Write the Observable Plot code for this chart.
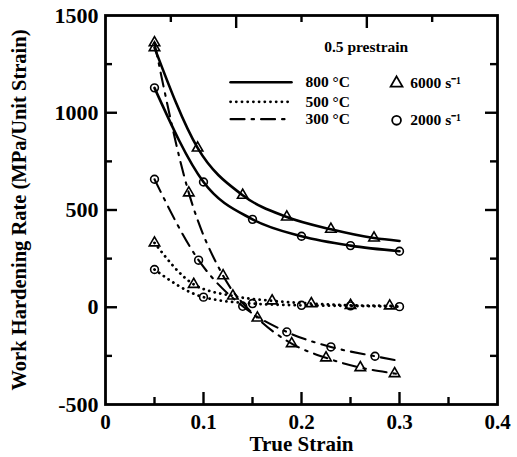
<!DOCTYPE html>
<html><head><meta charset="utf-8">
<script src="https://cdn.jsdelivr.net/npm/d3@7"></script>
<script src="https://cdn.jsdelivr.net/npm/@observablehq/plot@0.6"></script>
<style>body{margin:0;background:#fff}</style>
</head><body><div id="chart"></div>
<script>
// ---- data ----
const x800_6000 = [0.05, 0.094, 0.14, 0.185, 0.23, 0.274];
const y800_6000 = [1335, 819, 576, 464, 401, 356];
const x800_2000 = [0.05, 0.10, 0.15, 0.20, 0.25, 0.30];
const y800_2000 = [1128, 644, 452, 365, 317, 288];
const x500_6000 = [0.05, 0.09, 0.13, 0.17, 0.21, 0.25, 0.29];
const y500_6000 = [331, 118, 58, 33, 19, 10, 7];
const x500_2000 = [0.05, 0.10, 0.15, 0.20, 0.25, 0.30];
const y500_2000 = [194, 52, 19, 10, 7, 3];
const x300_6000 = [0.05, 0.085, 0.12, 0.155, 0.19, 0.225, 0.26, 0.295];
const y300_6000 = [1360, 588, 162, -55, -187, -260, -310, -341];
const x300_2000 = [0.05, 0.095, 0.14, 0.185, 0.23, 0.275];
const y300_2000 = [658, 242, 5, -127, -204, -252];
// end points of the fitted curves beyond the last marker
const end800_6000 = [0.30, 341];
const end500_6000 = [0.30, 6];
const end300_6000 = [0.30, -345];
const end300_2000 = [0.30, -276];

const xTickLabels = [0, 0.1, 0.2, 0.3, 0.4];
const xMinorTicks = [0.05, 0.15, 0.25, 0.35];
const topMajorTicks = [0.4 * 2 / 6, 0.4 * 4 / 6];
const topMinorTicks = [0.4 / 6, 0.4 * 3 / 6, 0.4 * 5 / 6];
const yTickLabels = [-500, 0, 500, 1000, 1500];
const yMinorTicks = [-250, 250, 750, 1250];

const temps = ["800 °C", "500 °C", "300 °C"];
const rates = ["6000", "2000"];

// ---- build tables ----
const zip = (xs, ys) => xs.map((x, i) => ({x, y: ys[i]}));
const series = [
  {temp: "800", rate: "6000", pts: zip(x800_6000, y800_6000), end: end800_6000},
  {temp: "800", rate: "2000", pts: zip(x800_2000, y800_2000), end: null},
  {temp: "500", rate: "6000", pts: zip(x500_6000, y500_6000), end: end500_6000},
  {temp: "500", rate: "2000", pts: zip(x500_2000, y500_2000), end: null},
  {temp: "300", rate: "6000", pts: zip(x300_6000, y300_6000), end: end300_6000},
  {temp: "300", rate: "2000", pts: zip(x300_2000, y300_2000), end: end300_2000}
];
const lineStyle = {
  "800": {strokeWidth: 2.6},
  "500": {strokeWidth: 2.8, strokeDasharray: "0.1,5.6", strokeLinecap: "round"},
  "300": {strokeWidth: 2.1, strokeDasharray: "14,7,2.5,7"}
};
const symbolOf = {"6000": "triangle", "2000": "circle"};

const fam = "'Liberation Serif', 'Times New Roman', serif";
const xt = 0.4 / 392; // data units per pixel (x)
const yt = 2000 / 389; // data units per pixel (y)

const marks = [];
for (const s of series) {
  const line = s.end ? [...s.pts, {x: s.end[0], y: s.end[1]}] : s.pts;
  marks.push(Plot.line(line, {x: "x", y: "y", curve: "monotone-x", stroke: "black", ...lineStyle[s.temp]}));
}
for (const s of series) {
  marks.push(Plot.dot(s.pts, {x: "x", y: "y", symbol: symbolOf[s.rate], r: s.rate === "6000" ? 3.9 : 3.9, stroke: "black", strokeWidth: 1.6, fill: "none"}));
}
// inward tick marks
marks.push(
  Plot.ruleX(xTickLabels.slice(1, -1), {x: d => d, y1: -500, y2: -500 + 12 * yt, stroke: "black", strokeWidth: 2.4}),
  Plot.ruleX(xMinorTicks, {x: d => d, y1: -500, y2: -500 + 7 * yt, stroke: "black", strokeWidth: 2.4}),
  Plot.ruleX(topMajorTicks, {x: d => d, y1: 1500, y2: 1500 - 13 * yt, stroke: "black", strokeWidth: 2.4}),
  Plot.ruleX(topMinorTicks, {x: d => d, y1: 1500, y2: 1500 - 7 * yt, stroke: "black", strokeWidth: 2.4}),
  Plot.ruleY(yTickLabels.slice(1, -1), {y: d => d, x1: 0, x2: 12 * xt, stroke: "black", strokeWidth: 2.4}),
  Plot.ruleY(yMinorTicks, {y: d => d, x1: 0, x2: 7 * xt, stroke: "black", strokeWidth: 2.4}),
  Plot.ruleY(yTickLabels.slice(1, -1), {y: d => d, x1: 0.4, x2: 0.4 - 12 * xt, stroke: "black", strokeWidth: 2.4}),
  Plot.ruleY(yMinorTicks, {y: d => d, x1: 0.4, x2: 0.4 - 7 * xt, stroke: "black", strokeWidth: 2.4}),
  Plot.frame({stroke: "black", strokeWidth: 2.8})
);
// axes (labels only)
marks.push(
  Plot.axisX(xTickLabels, {tickSize: 0, tickPadding: 10, tickFormat: d => String(d), fontSize: 21, fontWeight: "bold", label: null}),
  Plot.axisY(yTickLabels, {tickSize: 0, tickPadding: 7, tickFormat: d => d < 0 ? "-" + Math.abs(d) : String(d), fontSize: 22, fontWeight: "bold", label: null}),
  Plot.text(["True Strain"], {frameAnchor: "bottom", dy: 40, textAnchor: "middle", lineAnchor: "middle", text: d => d, fontSize: 21, fontWeight: "bold"}),
  Plot.text(["Work Hardening Rate (MPa/Unit Strain)"], {frameAnchor: "left", dx: -86, rotate: -90, textAnchor: "middle", lineAnchor: "middle", text: d => d, fontSize: 20.5, fontWeight: "bold"})
);
// legend
const legX1 = 0.1276, legX2 = 0.1898, legTextX = 0.204;
const legY = [1157, 1056, 967];
const legendLines = temps.map((t, i) => ({t, key: ["800", "500", "300"][i], y: legY[i]}));
for (const l of legendLines) {
  marks.push(Plot.line([{x: legX1, y: l.y}, {x: legX2, y: l.y}], {x: "x", y: "y", stroke: "black", ...lineStyle[l.key]}));
}
marks.push(
  Plot.text(legendLines, {x: legTextX, y: "y", text: "t", textAnchor: "start", fontSize: 15.5, fontWeight: "bold"}),
  Plot.text(["0.5 prestrain"], {x: 0.266, y: 1337, text: d => d, fontSize: 15.5, fontWeight: "bold"}),
  Plot.dot(rates, {x: 0.297, y: (d, i) => [1152, 961][i], symbol: d => symbolOf[d], r: 4.4, stroke: "black", strokeWidth: 1.8, fill: "none"}),
  Plot.text(rates, {x: 0.311, y: (d, i) => [1152, 961][i], text: d => d + " s\u207B\u00B9", textAnchor: "start", fontSize: 15.5, fontWeight: "bold"})
);

const chart = Plot.plot({
  width: 517, height: 457,
  marginLeft: 105, marginRight: 20, marginTop: 15, marginBottom: 53,
  x: {domain: [0, 0.4]},
  y: {domain: [-500, 1500]},
  symbol: {type: "identity"},
  style: {fontFamily: fam, color: "black", background: "white"},
  marks
});
document.getElementById("chart").append(chart);
</script>
</body></html>
